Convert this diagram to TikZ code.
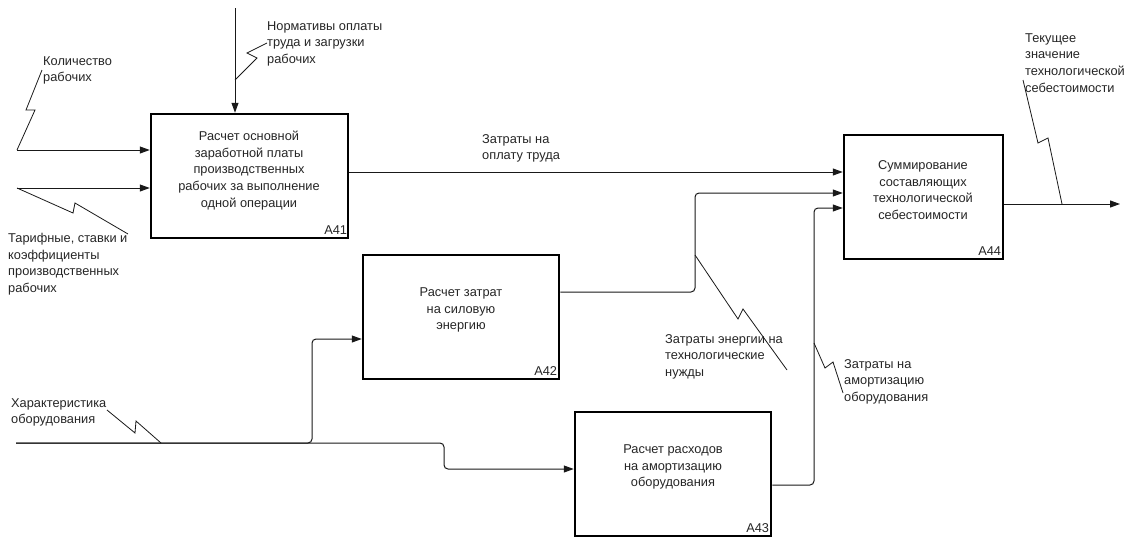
\documentclass[tikz,border=0pt]{standalone}
\usepackage{fontspec}
\setmainfont{Liberation Sans}
\usetikzlibrary{arrows.meta}
\begin{document}
\begin{tikzpicture}[x=1pt,y=-1pt,
  every node/.style={font=\fontsize{12.8}{16.7}\selectfont, text=black!85},
  fnbox/.style={draw=black, line width=2.5pt, inner sep=0pt, minimum height=124pt},
  boxtext/.style={align=center, inner sep=0pt},
  boxid/.style={anchor=base east, inner sep=0pt},
  lbl/.style={align=left, anchor=north west, inner sep=0pt},
  arr/.style={draw=black!90, line width=1pt, rounded corners=4pt, -{Triangle[length=10pt,width=7pt]}},
  squig/.style={draw=black!90, line width=0.8pt}
]
\fill[white] (0,0) rectangle (1132,538);
\useasboundingbox (0,0) rectangle (1132,538);

% activity boxes
\node[fnbox, minimum width=197pt] (a41) at (249.5,176) {};
\node[fnbox, minimum width=196pt] (a42) at (461,317) {};
\node[fnbox, minimum width=196pt] (a43) at (673,474) {};
\node[fnbox, minimum width=159pt] (a44) at (923.5,197) {};

\node[boxtext] (t41) at (249,170.5) {Расчет основной\\заработной платы\\производственных\\рабочих за выполнение\\одной операции};
\node[boxtext] (t42) at (461,310) {Расчет затрат\\на силовую\\энергию};
\node[boxtext] (t43) at (673,467) {Расчет расходов\\на амортизацию\\оборудования};
\node[boxtext] (t44) at (923,190) {Суммирование\\составляющих\\технологической\\себестоимости};

\node[boxid] (id41) at ([xshift=-2pt,yshift=5pt]a41.south east) {A41};
\node[boxid] (id42) at ([xshift=-3pt,yshift=5pt]a42.south east) {A42};
\node[boxid] (id43) at ([xshift=-3pt,yshift=5pt]a43.south east) {A43};
\node[boxid] (id44) at ([xshift=-3pt,yshift=5pt]a44.south east) {A44};

% free ends of the boundary arrows
\coordinate (inQty) at (17,150);
\coordinate (inRate) at (17,188);
\coordinate (inNorm) at (235,8);
\coordinate (inEquip) at (16,443);
\coordinate (outCost) at (1120,204);

% arrow labels
\node[lbl] (lQty) at (43,56) {Количество\\рабочих};
\node[lbl] (lRate) at (8,233) {Тарифные, ставки и\\коэффициенты\\производственных\\рабочих};
\node[lbl] (lNorm) at (267,21) {Нормативы оплаты\\труда и загрузки\\рабочих};
\node[lbl] (lPay) at (482,134) {Затраты на\\оплату труда};
\node[lbl] (lEnergy) at (665,334) {Затраты энергии на\\технологические\\нужды};
\node[lbl] (lAmort) at (844,359) {Затраты на\\амортизацию\\оборудования};
\node[lbl] (lOut) at (1025,33) {Текущее\\значение\\технологической\\себестоимости};
\node[lbl] (lEquip) at (11,398) {Характеристика\\оборудования};

% inputs and control of A41
\draw[arr] (inQty) -- (inQty -| a41.west);
\draw[arr] (inRate) -- (inRate -| a41.west);
\draw[arr] (inNorm) -- (inNorm |- a41.north);

% equipment data branching to A42 and A43
\draw[arr] (inEquip) -- (312,443) -- (312,339) -- (a42.west |- 0,339);
\draw[arr] (inEquip) -- (444,443) -- (444,469) -- (a43.west |- 0,469);

% cost flows into A44
\draw[arr] (a41.east |- 0,172) -- (a44.west |- 0,172);
\draw[arr] (a42.east |- 0,292) -- (695,292) -- (695,193) -- (a44.west |- 0,193);
\draw[arr] (a43.east |- 0,485) -- (814,485) -- (814,208) -- (a44.west |- 0,208);

% output
\draw[arr] (a44.east |- outCost) -- (outCost);

% squiggles tying labels to arrows
\draw[squig] (inQty) -- (35,110) -- (26,110) -- (42,70);
\draw[squig] (inRate) -- (73,213) -- (75,203) -- (128,234);
\draw[squig] (235,80) -- (257,58) -- (247,53) -- (267,43);
\draw[squig] (161,443) -- (136,421) -- (135,433) -- (107,410);
\draw[squig] (695,255) -- (738,319) -- (743,309) -- (787,370);
\draw[squig] (814,343) -- (825,368) -- (833,362) -- (843,393);
\draw[squig] (1062,204) -- (1048,138) -- (1038,143) -- (1023,80);
\end{tikzpicture}
\end{document}
